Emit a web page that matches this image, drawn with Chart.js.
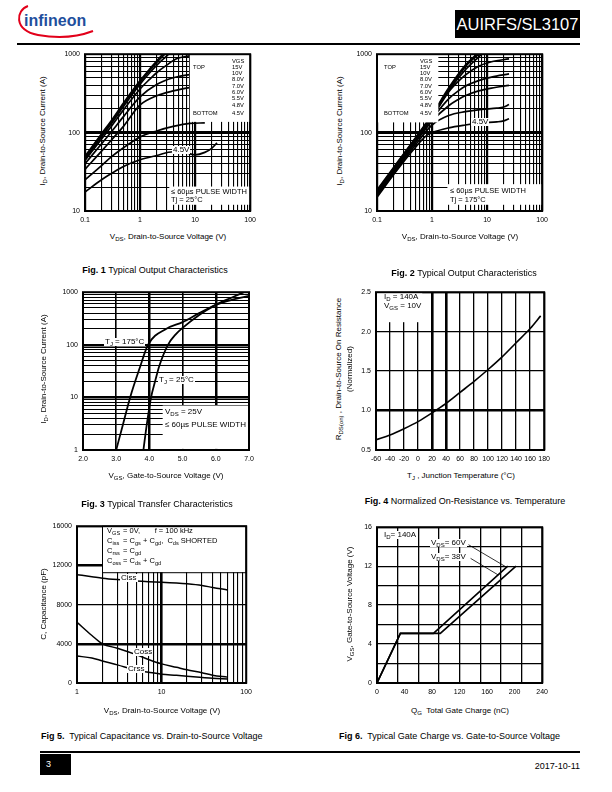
<!DOCTYPE html>
<html>
<head>
<meta charset="utf-8">
<title>AUIRFS/SL3107 - page 3</title>
<script src="https://cdn.jsdelivr.net/npm/chart.js@4.4.1/dist/chart.umd.min.js"></script>
<style>
  body { margin:0; width:612px; height:792px; position:relative; overflow:hidden; background:#fff;
         font-family:"Liberation Sans", Arial, sans-serif; color:#000; }
  canvas { position:absolute; }
  .t { position:absolute; white-space:nowrap; line-height:1; }
  .cap { font-size:9px; }
  .ax { font-size:8px; }
  .nt { font-size:7.5px; }
  .lg { font-size:5.8px; }
  .rot { transform:translate(-50%,-50%) rotate(-90deg); }
  .ctr { transform:translateX(-50%); }
  .wb { background:#fff; padding:0 1px; }
  sub { font-size:75%; vertical-align:-0.3em; line-height:0; }
  .k { display:inline-block; width:14px; }
</style>
</head>
<body>

<!-- en-tete -->
<svg class="t" style="left:0;top:0" width="110" height="44">
  <path d="M28 6 C16 10 13 30 38 35 C60 39 80 36 93 31" fill="none" stroke="#e2001a" stroke-width="2"/>
  <text x="24" y="26" font-family="Liberation Sans" font-weight="bold" font-size="16" fill="#1f4f9d">infineon</text>
</svg>
<div class="t" style="left:455px;top:10px;width:125px;height:28px;background:#000;color:#fff;font-size:16.5px;line-height:28px;text-align:center">AUIRFS/SL3107</div>
<div class="t" style="left:17px;top:43px;width:563px;height:1.5px;background:#000"></div>

<canvas id="fig1"></canvas>
<canvas id="fig2"></canvas>
<canvas id="fig3"></canvas>
<canvas id="fig4"></canvas>
<canvas id="fig5"></canvas>
<canvas id="fig6"></canvas>

<!-- Fig 1 textes -->
<div class="t lg" style="left:232px;top:59px">VGS</div>
<div class="t lg" style="left:193px;top:65px">TOP</div>
<div class="t lg" style="left:232px;top:65px">15V</div>
<div class="t lg" style="left:232px;top:71px">10V</div>
<div class="t lg" style="left:232px;top:77px">8.0V</div>
<div class="t lg" style="left:232px;top:84px">7.0V</div>
<div class="t lg" style="left:232px;top:90px">6.0V</div>
<div class="t lg" style="left:232px;top:96px">5.5V</div>
<div class="t lg" style="left:232px;top:103px">4.8V</div>
<div class="t lg" style="left:193px;top:111px">BOTTOM</div>
<div class="t lg" style="left:232px;top:111px">4.5V</div>
<div class="t ax wb" style="left:172px;top:146px">4.5V</div>
<div class="t nt" style="left:171px;top:188px">≤ 60µs PULSE WIDTH</div>
<div class="t nt" style="left:171px;top:196px">Tj = 25°C</div>
<div class="t ax rot" style="left:43px;top:131px">I<sub>D</sub>, Drain-to-Source Current (A)</div>
<div class="t ax ctr" style="left:168px;top:233px">V<sub>DS</sub>, Drain-to-Source Voltage (V)</div>
<div class="t cap ctr" style="left:155px;top:266px"><b>Fig. 1</b> Typical Output Characteristics</div>

<!-- Fig 2 textes -->
<div class="t lg" style="left:420px;top:59px">VGS</div>
<div class="t lg" style="left:384px;top:65px">TOP</div>
<div class="t lg" style="left:420px;top:65px">15V</div>
<div class="t lg" style="left:420px;top:71px">10V</div>
<div class="t lg" style="left:420px;top:77px">8.0V</div>
<div class="t lg" style="left:420px;top:84px">7.0V</div>
<div class="t lg" style="left:420px;top:90px">6.0V</div>
<div class="t lg" style="left:420px;top:96px">5.5V</div>
<div class="t lg" style="left:420px;top:103px">4.8V</div>
<div class="t lg" style="left:384px;top:111px">BOTTOM</div>
<div class="t lg" style="left:420px;top:111px">4.5V</div>
<div class="t ax wb" style="left:471px;top:118px">4.5V</div>
<div class="t nt" style="left:450px;top:187px">≤ 60µs PULSE WIDTH</div>
<div class="t nt" style="left:450px;top:196px">Tj = 175°C</div>
<div class="t ax rot" style="left:340px;top:131px">I<sub>D</sub>, Drain-to-Source Current (A)</div>
<div class="t ax ctr" style="left:460px;top:233px">V<sub>DS</sub>, Drain-to-Source Voltage (V)</div>
<div class="t cap ctr" style="left:464px;top:269px"><b>Fig. 2</b> Typical Output Characteristics</div>

<!-- Fig 3 textes -->
<div class="t ax wb" style="left:104px;top:338px">T<sub>J</sub> = 175°C</div>
<div class="t ax wb" style="left:158px;top:376px">T<sub>J</sub> = 25°C</div>
<div class="t ax" style="left:165px;top:408px">V<sub>DS</sub> = 25V</div>
<div class="t ax" style="left:165px;top:421px">≤ 60µs PULSE WIDTH</div>
<div class="t ax rot" style="left:44px;top:369px">I<sub>D</sub>, Drain-to-Source Current (A)</div>
<div class="t ax ctr" style="left:166px;top:472px">V<sub>GS</sub>, Gate-to-Source Voltage (V)</div>
<div class="t cap ctr" style="left:157px;top:500px"><b>Fig. 3</b> Typical Transfer Characteristics</div>

<!-- Fig 4 textes -->
<div class="t ax" style="left:384px;top:293px">I<sub>D</sub> = 140A</div>
<div class="t ax" style="left:384px;top:302px">V<sub>GS</sub> = 10V</div>
<div class="t ax rot" style="left:339px;top:369px">R<sub>DS(on)</sub> , Drain-to-Source On Resistance</div>
<div class="t ax rot" style="left:350px;top:369px">(Normalized)</div>
<div class="t ax ctr" style="left:461px;top:472px">T<sub>J</sub> , Junction Temperature (°C)</div>
<div class="t cap ctr" style="left:465px;top:497px"><b>Fig. 4</b> Normalized On-Resistance vs. Temperature</div>

<!-- Fig 5 textes -->
<div class="t nt" style="left:107px;top:527px"><span class="k">V<sub>GS</sub></span> = 0V,&nbsp;&nbsp;&nbsp;&nbsp;&nbsp;&nbsp; f = 100 kHz</div>
<div class="t nt" style="left:107px;top:537px"><span class="k">C<sub>iss</sub></span> = C<sub>gs</sub> + C<sub>gd</sub>,&nbsp; C<sub>ds</sub> SHORTED</div>
<div class="t nt" style="left:107px;top:547px"><span class="k">C<sub>rss</sub></span> = C<sub>gd</sub></div>
<div class="t nt" style="left:107px;top:557px"><span class="k">C<sub>oss</sub></span> = C<sub>ds</sub> + C<sub>gd</sub></div>
<div class="t ax wb" style="left:120px;top:574px">Ciss</div>
<div class="t ax wb" style="left:133px;top:648px">Coss</div>
<div class="t ax wb" style="left:127px;top:665px">Crss</div>
<div class="t ax rot" style="left:44px;top:604px">C, Capacitance (pF)</div>
<div class="t ax ctr" style="left:162px;top:707px">V<sub>DS</sub>, Drain-to-Source Voltage (V)</div>
<div class="t cap" style="left:41px;top:732px"><b>Fig 5.</b>&nbsp; Typical Capacitance vs. Drain-to-Source Voltage</div>

<!-- Fig 6 textes -->
<div class="t ax wb" style="left:383px;top:531px">I<sub>D</sub>= 140A</div>
<div class="t ax wb" style="left:430px;top:539px">V<sub>DS</sub>= 60V</div>
<div class="t ax wb" style="left:430px;top:553px">V<sub>DS</sub>= 38V</div>
<div class="t ax rot" style="left:350px;top:604px">V<sub>GS</sub>, Gate-to-Source Voltage (V)</div>
<div class="t ax ctr" style="left:460px;top:707px">Q<sub>G</sub>&nbsp; Total Gate Charge (nC)</div>
<div class="t cap" style="left:339px;top:732px"><b>Fig 6.</b>&nbsp; Typical Gate Charge vs. Gate-to-Source Voltage</div>

<!-- pied de page -->
<div class="t" style="left:40px;top:751px;width:540px;height:2px;background:#000"></div>
<div class="t" style="left:40px;top:754px;width:31px;height:21px;background:#000"></div>
<div class="t cap" style="left:46px;top:760px;color:#fff">3</div>
<div class="t cap" style="right:32px;top:762px">2017-10-11</div>

<script>
// ---------- Donnees ----------

// Fig 1 : Tj = 25°C, [VDS (V), ID (A)] pour chaque VGS
const fig1Vgs15 = [[0.1,50],[0.2,97],[0.3,142],[0.5,238],[1,460],[1.5,650],[2,820],[2.6,1000]];
const fig1Vgs10 = [[0.1,48],[0.2,93],[0.3,136],[0.5,228],[1,440],[1.5,620],[2,780],[2.8,1000]];
const fig1Vgs8  = [[0.1,46],[0.2,89],[0.3,130],[0.5,215],[1,415],[1.5,580],[2,720],[3,940],[3.3,1000]];
const fig1Vgs7  = [[0.1,44],[0.2,83],[0.3,120],[0.5,195],[1,360],[1.5,480],[2,580],[3,720],[4.7,880],[8,950]];
const fig1Vgs6  = [[0.1,40],[0.2,72],[0.3,102],[0.5,160],[1,285],[2,410],[4,500],[8,550],[15,570]];
const fig1Vgs55 = [[0.1,34],[0.2,58],[0.3,80],[0.5,120],[1,225],[2,295],[4,340],[8,375],[15,385]];
const fig1Vgs48 = [[0.1,25],[0.2,38],[0.3,49],[0.5,64],[1,88],[2,105],[4,120],[8,131],[15,133]];
const fig1Vgs45 = [[0.1,17.5],[0.2,25],[0.3,30],[0.5,37],[1,45],[2,51],[4,57],[7,55],[10,52],[15,56],[20,63],[25,74]];

// Fig 2 : Tj = 175°C
const fig2Vgs15 = [[0.1,18.5],[0.2,36],[0.5,86],[1,170],[2,370],[4,720],[6.5,1000]];
const fig2Vgs10 = [[0.1,18],[0.2,35],[0.5,84],[1,165],[2,355],[4,690],[7,1000]];
const fig2Vgs8  = [[0.1,17.5],[0.2,34],[0.5,82],[1,160],[2,340],[4,630],[7,920],[8,1000]];
const fig2Vgs7  = [[0.1,17],[0.2,33],[0.5,80],[1,155],[2,330],[3,450],[4,540],[7,700],[12,800],[25,870]];
const fig2Vgs6  = [[0.1,16.5],[0.2,32],[0.5,78],[1,150],[2,270],[3,340],[4,390],[7,460],[12,510],[25,560]];
const fig2Vgs55 = [[0.1,16],[0.2,31],[0.5,75],[1,140],[2,220],[3,265],[4,295],[7,340],[12,370],[25,400]];
const fig2Vgs48 = [[0.1,15.5],[0.2,30],[0.5,70],[1,125],[2,165],[4,185],[8,198],[15,205],[20,212],[25,228]];
const fig2Vgs45 = [[0.1,15],[0.2,29],[0.5,65],[0.8,92],[1,100],[2,115],[4,125],[8,133],[15,137],[20,141],[25,150]];

// Fig 3 : [VGS (V), ID (A)]
const fig3Tj175 = [[3.0,1],[3.2,3],[3.42,10],[3.7,35],[3.96,100],[4.5,200],[5.0,270],[5.5,400],[6.0,575],[6.5,720],[7.0,850]];
const fig3Tj25  = [[3.82,1],[3.92,3],[4.05,10],[4.17,20],[4.3,40],[4.56,100],[4.8,160],[5.0,210],[5.5,370],[6.0,575],[6.5,800],[6.85,1000]];

// Fig 4 : temperature (°C) et RDS(on) normalisee
const fig4Temp = [-60,-40,-20,0,20,40,60,80,100,120,140,160,175];
const fig4Rds  = [0.63,0.69,0.77,0.86,0.97,1.09,1.23,1.37,1.52,1.68,1.86,2.04,2.20];

// Fig 5 : VDS (V) et capacites (pF)
const fig5Vds  = [1,1.5,2,3,5,7,10,15,20,30,40,60];
const fig5Ciss = [11050,10850,10700,10550,10400,10330,10280,10200,10120,9950,9750,9500];
const fig5Coss = [6200,4850,4000,3550,2900,2400,1950,1600,1350,1050,800,600];
const fig5Crss = [2750,2550,2250,1850,1300,1100,900,780,680,560,480,420];

// Fig 6 : QG (nC) et VGS (V)
const fig6Qg38  = [0,34,82,190];
const fig6Vgs38 = [0,5.1,5.1,12];
const fig6Qg60  = [0,34,92,202];
const fig6Vgs60 = [0,5.1,5.1,12];
const fig6Lead60 = [[133,14.2],[188,11.9]];
const fig6Lead38 = [[136,12.8],[176,11.1]];

// Graduations
const decadeLabels = [0.1, 1, 10, 100, 1000];
const fig3XTicks = [2, 3, 4, 5, 6, 7];
const fig4XTicks = [-60,-40,-20,0,20,40,60,80,100,120,140,160,180];
const fig4YTicks = [0.5, 1.0, 1.5, 2.0, 2.5];
const fig5YTicks = [0, 4000, 8000, 12000, 16000];
const fig6XLabels = [0, 40, 80, 120, 160, 200, 240];
const fig6XGrid = [0, 30, 60, 90, 120, 150, 180, 210, 240];
const fig6YLabels = [0, 4, 8, 12, 16];
const fig6YGrid = [0, 2, 4, 6, 8, 10, 12, 14, 16];

// ---------- Outils ----------
const PL = 28, PR = 10, PT = 6, PB = 16;
const tickFont = { family: 'Liberation Sans', size: 7 };

function isDecade(v) {
    const l = Math.log10(v);
    return Math.abs(l - Math.round(l)) < 1e-9;
}

// graduations 1..9 de chaque decade
function logTicks(min, max) {
    const out = [];
    for (let e = Math.round(Math.log10(min)); e < Math.round(Math.log10(max)); e++) {
        for (let m = 1; m < 10; m++) out.push(Number((m * Math.pow(10, e)).toPrecision(2)));
    }
    out.push(max);
    return out;
}

function axis(pos, o) {
    const vals = o.values;
    return {
        type: o.type, position: pos, min: o.min, max: o.max,
        border: { display: false },
        afterBuildTicks: sc => { sc.ticks = vals.map(v => ({ value: v })); },
        grid: {
            drawTicks: false,
            color: c => (c.tick && o.grid && !o.grid.includes(c.tick.value)) ? 'rgba(0,0,0,0)' : '#000',
            lineWidth: c => c.tick ? o.width(c.tick.value) : 1
        },
        ticks: {
            color: '#000', font: tickFont, padding: 5, autoSkip: false, maxRotation: 0,
            callback: v => o.labels.includes(v) ? o.fmt(v) : ''
        },
        afterFit: sc => { if (pos === 'left') sc.width = PL; else sc.height = PB; }
    };
}

// cadres blancs des legendes + cadre du graphe
const overlay = {
    id: 'overlay',
    afterDatasetsDraw(chart, args, opts) {
        const { ctx, chartArea: a, scales: { x, y } } = chart;
        ctx.save();
        (opts.boxes || []).forEach(b => {
            const x0 = x.getPixelForValue(b[0]), x1 = x.getPixelForValue(b[1]);
            const yb = y.getPixelForValue(b[2]), yt = y.getPixelForValue(b[3]);
            ctx.fillStyle = '#fff';
            ctx.fillRect(x0, yt, x1 - x0, yb - yt);
            if (b[4]) {
                ctx.strokeStyle = '#000';
                ctx.lineWidth = 1;
                ctx.strokeRect(Math.round(x0) + 0.5, yt, x1 - x0, Math.round(yb - yt) + 0.5);
            }
        });
        ctx.strokeStyle = '#000';
        ctx.lineWidth = 2;
        ctx.strokeRect(a.left, a.top, a.right - a.left, a.bottom - a.top);
        ctx.restore();
    }
};

function curve(pts, w, straight) {
    return {
        data: pts.map(p => ({ x: p[0], y: p[1] })),
        borderColor: '#000', borderWidth: w || 1.6, pointRadius: 0, fill: false,
        cubicInterpolationMode: straight ? 'default' : 'monotone', tension: 0
    };
}

function zip(xs, ys) { return xs.map((v, i) => [v, ys[i]]); }

function plot(id, rect, xAx, yAx, datasets, boxes) {
    const c = document.getElementById(id);
    c.width = rect[1] - rect[0] + PL + PR;
    c.height = rect[3] - rect[2] + PT + PB;
    c.style.left = (rect[0] - PL) + 'px';
    c.style.top = (rect[2] - PT) + 'px';
    return new Chart(c, {
        type: 'line',
        data: { datasets },
        options: {
            responsive: false, animation: false, events: [], devicePixelRatio: 1,
            layout: { padding: { top: PT, right: PR, left: 0, bottom: 0 } },
            plugins: { legend: { display: false }, tooltip: { enabled: false }, overlay: { boxes } },
            scales: { x: axis('bottom', xAx), y: axis('left', yAx) }
        },
        plugins: [overlay]
    });
}

const logFmt = v => String(v);

// ---------- Fig 1 ----------
plot('fig1', [85, 251, 51, 211],
    { type: 'logarithmic', min: 0.1, max: 100, values: logTicks(0.1, 100), labels: decadeLabels, fmt: logFmt,
      width: v => isDecade(v) ? 2.2 : 1.1 },
    { type: 'logarithmic', min: 10, max: 1000, values: logTicks(10, 1000), labels: decadeLabels, fmt: logFmt,
      width: v => v === 100 ? 3 : 1.1 },
    [fig1Vgs15, fig1Vgs10, fig1Vgs8, fig1Vgs7, fig1Vgs6, fig1Vgs55, fig1Vgs48, fig1Vgs45].map(d => curve(d, 1.7)),
    [[8, 100, 137, 1000], [3.4, 100, 12, 20.5]]);

// ---------- Fig 2 ----------
plot('fig2', [377, 543, 51, 211],
    { type: 'logarithmic', min: 0.1, max: 100, values: logTicks(0.1, 100), labels: decadeLabels, fmt: logFmt,
      width: v => isDecade(v) ? 2.2 : 1.1 },
    { type: 'logarithmic', min: 10, max: 1000, values: logTicks(10, 1000), labels: decadeLabels, fmt: logFmt,
      width: v => v === 100 ? 3 : 1.1 },
    [fig2Vgs15, fig2Vgs10, fig2Vgs8, fig2Vgs7, fig2Vgs6, fig2Vgs55, fig2Vgs48, fig2Vgs45].map(d => curve(d, 1.7)),
    [[0.1, 1.3, 135, 1000], [1.9, 100, 12, 22]]);

// ---------- Fig 3 ----------
plot('fig3', [83, 249, 289, 450],
    { type: 'linear', min: 2, max: 7, values: fig3XTicks, labels: fig3XTicks, fmt: v => v.toFixed(1),
      width: v => (v === 4 || v === 6) ? 2.5 : 1.6 },
    { type: 'logarithmic', min: 1, max: 1000, values: logTicks(1, 1000), labels: decadeLabels, fmt: logFmt,
      width: v => (v === 10 || v === 100) ? 2.6 : 1.1 },
    [curve(fig3Tj175, 1.8), curve(fig3Tj25, 1.8)],
    [[4.4, 7, 1.05, 7]]);

// ---------- Fig 4 ----------
plot('fig4', [376, 545, 289, 450],
    { type: 'linear', min: -60, max: 180, values: fig4XTicks, labels: fig4XTicks, fmt: v => String(v),
      width: v => (v === 20 || v === 40) ? 2.6 : 1.3 },
    { type: 'linear', min: 0.5, max: 2.5, values: fig4YTicks, labels: fig4YTicks, fmt: v => v.toFixed(1),
      width: v => v === 1 ? 2.6 : 1.3 },
    [curve(zip(fig4Temp, fig4Rds), 1.6)],
    [[-59, 6, 2.12, 2.49]]);

// ---------- Fig 5 ----------
plot('fig5', [77, 247, 523, 683],
    { type: 'logarithmic', min: 1, max: 100, values: logTicks(1, 100), labels: [1, 10, 100], fmt: logFmt,
      width: v => v === 10 ? 2.6 : 1.1 },
    { type: 'linear', min: 0, max: 16000, values: fig5YTicks, labels: fig5YTicks, fmt: v => String(v),
      width: v => (v === 4000 || v === 12000) ? 2.6 : 1.3 },
    [curve(zip(fig5Vds, fig5Ciss), 1.5), curve(zip(fig5Vds, fig5Coss), 1.5), curve(zip(fig5Vds, fig5Crss), 1.5)],
    [[2, 100, 11300, 16000, true]]);

// ---------- Fig 6 ----------
plot('fig6', [377, 543, 524, 683],
    { type: 'linear', min: 0, max: 240, values: [...new Set([...fig6XGrid, ...fig6XLabels])].sort((a, b) => a - b),
      labels: fig6XLabels, grid: fig6XGrid, fmt: v => String(v), width: () => 1.3 },
    { type: 'linear', min: 0, max: 16, values: fig6YGrid, labels: fig6YLabels, grid: fig6YGrid,
      fmt: v => String(v), width: () => 1.3 },
    [curve(zip(fig6Qg38, fig6Vgs38), 1.6, true), curve(zip(fig6Qg60, fig6Vgs60), 1.6, true),
     curve(fig6Lead60, 0.8, true), curve(fig6Lead38, 0.8, true)],
    []);
</script>
</body>
</html>
